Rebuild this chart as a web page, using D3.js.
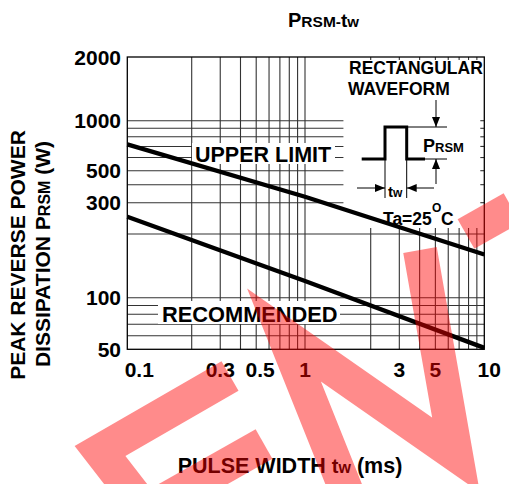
<!DOCTYPE html>
<html>
<head>
<meta charset="utf-8">
<script src="https://cdn.jsdelivr.net/npm/d3@7"></script>
<style>
  body { margin: 0; background: #fff; }
  text { font-family: 'Liberation Sans', Arial, sans-serif; font-weight: bold; fill: #000; }
</style>
</head>
<body>
<script>
// tick labels
const xTickVals = [0.1, 0.3, 0.5, 1, 3, 5, 10];
const yTickVals = [2000, 1000, 500, 300, 100, 50];

// grid lines
const xGridLeft = [0.2, 0.3, 0.4, 0.5, 0.6, 0.7, 0.8, 0.9, 1];
const xGridRight = [2, 3, 4, 5, 6, 7, 8, 9];
const yGridUpper = [1000, 900, 800, 700, 600, 500, 400, 300];
const yGridLower = [200, 100, 90, 80, 70, 60];

// curves (tw in ms, P in W)
const twValues = [0.1, 1, 10];
const upperLimit = [720, 330, 160];
const recommended = [250, 120, 51];

const svg = d3.select('body')
    .append('svg')
    .attr('width', 509)
    .attr('height', 484);

// the sheet's log grid stretches the 1-2 octave, so the scales are piecewise
const x = d3.scaleLog()
    .domain([0.1, 0.2, 1, 2, 10])
    .range([127.3, 191.7, 305, 370.7, 484.3]);

const y = d3.scaleLog()
    .domain([50, 100, 200, 300, 500, 1000, 2000])
    .range([349.3, 297.7, 234, 202.7, 170.7, 120.7, 57]);

const x0 = x(0.1), x1 = x(10), yTop = y(2000), yBot = y(50);
const insetEdge = x(1.5);

const grid = svg.append('g')
    .attr('stroke', '#333')
    .attr('stroke-width', 1.1);

grid.selectAll('.vl')
    .data(xGridLeft)
    .enter()
    .append('line')
    .attr('x1', d => x(d)).attr('x2', d => x(d))
    .attr('y1', yTop).attr('y2', yBot);

grid.selectAll('.vr')
    .data(xGridRight)
    .enter()
    .append('line')
    .attr('x1', d => x(d)).attr('x2', d => x(d))
    .attr('y1', y(200) - 6).attr('y2', yBot);

// small ticks on the top edge of the right decade
grid.selectAll('.vt')
    .data(xGridRight)
    .enter()
    .append('line')
    .attr('x1', d => x(d)).attr('x2', d => x(d))
    .attr('y1', yTop).attr('y2', yTop + 3);

grid.selectAll('.hu')
    .data(yGridUpper)
    .enter()
    .append('line')
    .attr('x1', x0).attr('x2', insetEdge)
    .attr('y1', d => y(d)).attr('y2', d => y(d));

grid.selectAll('.ht')
    .data(yGridUpper)
    .enter()
    .append('line')
    .attr('x1', x1 - 4).attr('x2', x1)
    .attr('y1', d => y(d)).attr('y2', d => y(d));

grid.selectAll('.hl')
    .data(yGridLower)
    .enter()
    .append('line')
    .attr('x1', x0).attr('x2', x1)
    .attr('y1', d => y(d)).attr('y2', d => y(d));

svg.append('rect')
    .attr('x', x0).attr('y', yTop)
    .attr('width', x1 - x0).attr('height', yBot - yTop)
    .attr('fill', 'none')
    .attr('stroke', '#000')
    .attr('stroke-width', 1.3);

// labels sitting on the grid, with white backing
svg.append('rect').attr('x', 192).attr('y', 143).attr('width', 143).attr('height', 21).attr('fill', '#fff');
svg.append('text').attr('x', 195).attr('y', 161.5).attr('font-size', 21.5).text('UPPER LIMIT');

svg.append('rect').attr('x', 158).attr('y', 301).attr('width', 182).attr('height', 23).attr('fill', '#fff');
svg.append('text').attr('x', 162).attr('y', 322).attr('font-size', 21.8).text('RECOMMENDED');

const line = d3.line()
    .x((d, i) => x(twValues[i]))
    .y(d => y(d));

svg.selectAll('.curve')
    .data([upperLimit, recommended])
    .enter()
    .append('path')
    .attr('d', line)
    .attr('fill', 'none')
    .attr('stroke', '#000')
    .attr('stroke-width', 4.4);

// tick labels
svg.selectAll('.xl')
    .data(xTickVals)
    .enter()
    .append('text')
    .attr('x', d => x(d) + (d === 0.1 ? 12 : d === 10 ? 5 : d === 0.5 ? 4 : 0))
    .attr('y', 377)
    .attr('text-anchor', 'middle')
    .attr('font-size', 21)
    .text(d => d);

svg.selectAll('.yl')
    .data(yTickVals)
    .enter()
    .append('text')
    .attr('x', 121)
    .attr('y', d => y(d) + 7.5)
    .attr('text-anchor', 'end')
    .attr('font-size', 21)
    .text(d => d);

// title
const title = svg.append('text').attr('x', 288).attr('y', 27).attr('font-size', 20);
title.append('tspan').text('P');
title.append('tspan').attr('font-size', 15.5).text('RSM-');
title.append('tspan').attr('font-size', 19).text('t');
title.append('tspan').attr('font-size', 15).text('w');

// axis titles
const xt = svg.append('text').attr('x', 290).attr('y', 473).attr('text-anchor', 'middle').attr('font-size', 21.5);
xt.append('tspan').text('PULSE WIDTH ');
xt.append('tspan').attr('font-size', 20).text('t');
xt.append('tspan').attr('font-size', 16).text('w');
xt.append('tspan').text(' (ms)');

svg.append('text')
    .attr('transform', 'translate(25,255) rotate(-90)')
    .attr('text-anchor', 'middle')
    .attr('font-size', 21)
    .text('PEAK REVERSE POWER');

const yt = svg.append('text')
    .attr('transform', 'translate(50,254) rotate(-90)')
    .attr('text-anchor', 'middle')
    .attr('font-size', 21);
yt.append('tspan').text('DISSIPATION P');
yt.append('tspan').attr('font-size', 16).text('RSM');
yt.append('tspan').text(' (W)');

// inset: rectangular waveform
const inset = svg.append('g');
inset.append('text').attr('x', 349).attr('y', 74).attr('font-size', 17.5).text('RECTANGULAR');
inset.append('text').attr('x', 348).attr('y', 95).attr('font-size', 17.5).text('WAVEFORM');

svg.append('defs').append('marker')
    .attr('id', 'arrow')
    .attr('viewBox', '0 -4 10 8')
    .attr('refX', 10)
    .attr('refY', 0)
    .attr('orient', 'auto')
    .attr('markerUnits', 'userSpaceOnUse')
    .attr('markerWidth', 10)
    .attr('markerHeight', 8)
    .append('path')
    .attr('d', 'M0,-4L10,0L0,4Z')
    .attr('fill', '#000');

const thin = inset.append('g').attr('stroke', '#000').attr('stroke-width', 1);
thin.append('line').attr('x1', 408).attr('x2', 447).attr('y1', 127).attr('y2', 127);
thin.append('line').attr('x1', 425).attr('x2', 447).attr('y1', 159).attr('y2', 159);
thin.append('line').attr('x1', 385).attr('x2', 385).attr('y1', 159).attr('y2', 198);
thin.append('line').attr('x1', 406.7).attr('x2', 406.7).attr('y1', 159).attr('y2', 198);
thin.append('line').attr('x1', 436).attr('x2', 436).attr('y1', 100).attr('y2', 127).attr('marker-end', 'url(#arrow)');
thin.append('line').attr('x1', 436).attr('x2', 436).attr('y1', 184).attr('y2', 159).attr('marker-end', 'url(#arrow)');
thin.append('line').attr('x1', 357).attr('x2', 385).attr('y1', 188).attr('y2', 188).attr('marker-end', 'url(#arrow)');
thin.append('line').attr('x1', 434).attr('x2', 406.7).attr('y1', 188).attr('y2', 188).attr('marker-end', 'url(#arrow)');

inset.append('path')
    .attr('d', 'M361.7,159H385V127H406.7V159H425')
    .attr('fill', 'none')
    .attr('stroke', '#000')
    .attr('stroke-width', 3);

const pl = inset.append('text').attr('x', 423).attr('y', 152).attr('font-size', 18);
pl.append('tspan').text('P');
pl.append('tspan').attr('font-size', 13).text('RSM');

const tw = inset.append('text').attr('x', 388).attr('y', 197).attr('font-size', 15);
tw.append('tspan').text('t');
tw.append('tspan').attr('font-size', 12).text('w');

inset.append('text').attr('x', 383).attr('y', 225).attr('font-size', 17.5).text('Ta=25');
inset.append('text').attr('x', 432).attr('y', 212).attr('font-size', 12).text('O');
inset.append('text').attr('x', 441).attr('y', 225).attr('font-size', 17.5).text('C');

// red watermark strokes on top
const watermark = [
    [[230, 376], [100, 451], [138, 500]],
    [[264, 444], [165, 500]],
    [[350, 500], [284, 335], [456, 455], [420, 250]],
    [[466, 234], [512, 208]]
];

svg.append('g')
    .attr('opacity', 0.45)
    .selectAll('path')
    .data(watermark)
    .enter()
    .append('path')
    .attr('d', d3.line())
    .attr('fill', 'none')
    .attr('stroke', '#ff0000')
    .attr('stroke-width', 34)
    .attr('stroke-linejoin', 'miter');
</script>
</body>
</html>
